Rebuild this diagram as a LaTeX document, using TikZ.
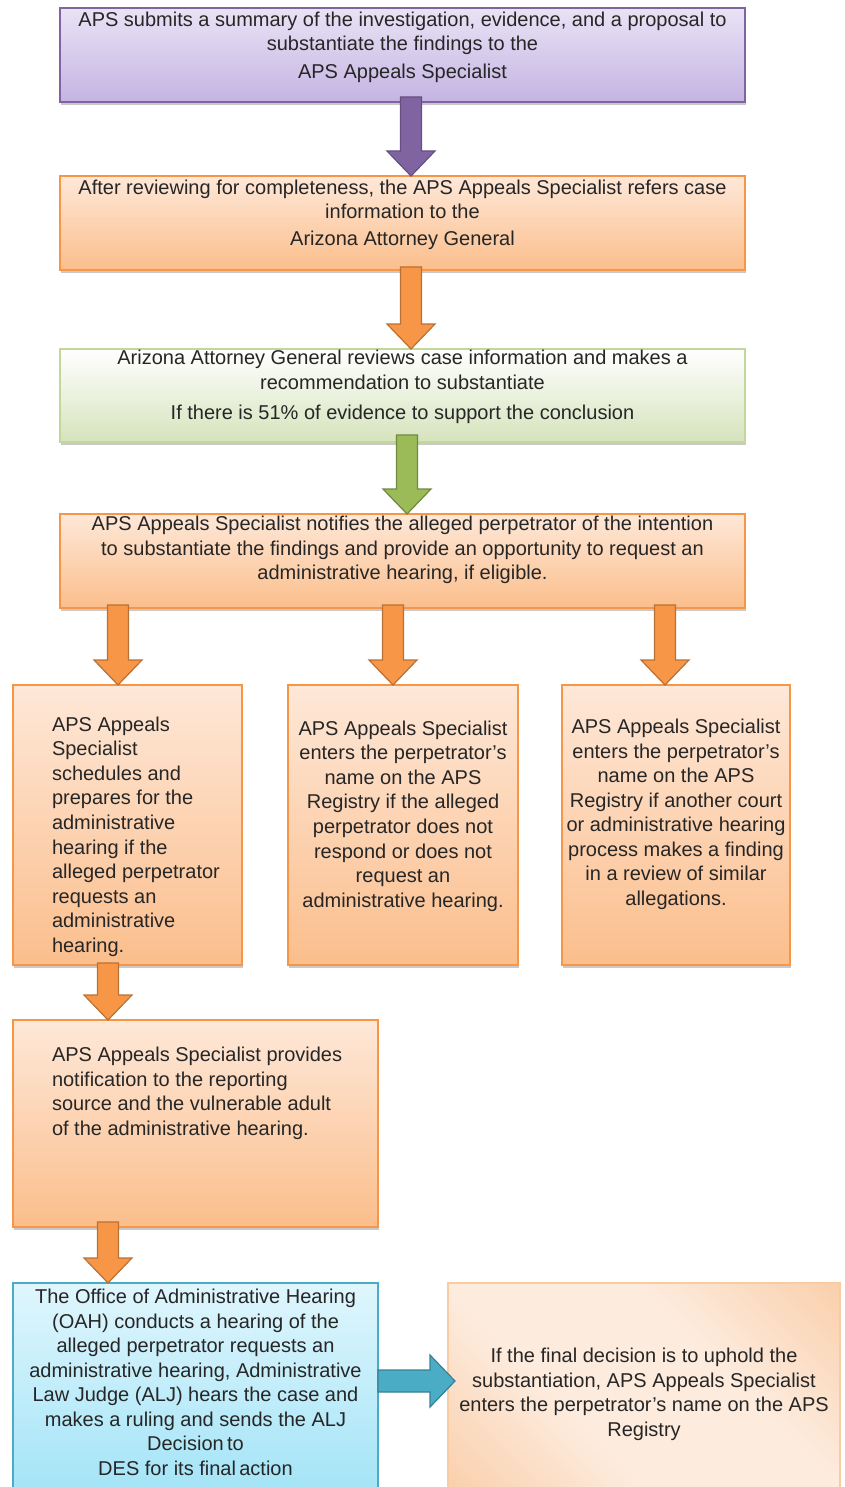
\documentclass[tikz,border=0pt]{standalone}
\usepackage{fontspec}
\setmainfont{Liberation Sans}
\usepackage{tikz}
\usetikzlibrary{calc, shadows}
\usetikzlibrary{positioning}

\definecolor{lavTop}{HTML}{E9E3F5}
\definecolor{lavBot}{HTML}{C5B4E3}
\definecolor{lavLine}{HTML}{8064A2}
\definecolor{peachTop}{HTML}{FEE8D8}
\definecolor{peachBot}{HTML}{FBBE8C}
\definecolor{peachLine}{HTML}{F79646}
\definecolor{sageTop}{HTML}{FFFFFF}
\definecolor{sageBot}{HTML}{D6E3BC}
\definecolor{sageLine}{HTML}{C3D69B}
\definecolor{sageFill}{HTML}{9BBB59}
\definecolor{sageEdge}{HTML}{71893F}
\definecolor{skyTop}{HTML}{E0F6FD}
\definecolor{skyBot}{HTML}{A3E4F7}
\definecolor{skyLine}{HTML}{4BACC6}
\definecolor{bandDark}{HTML}{F8BE8C}
\definecolor{bandLight}{HTML}{FDEBDD}
\definecolor{inkText}{HTML}{262626}

\pgfdeclarehorizontalshading{peachband}{100bp}{color(0bp)=(bandDark); color(38bp)=(bandLight); color(62bp)=(bandLight); color(100bp)=(bandDark)}

\tikzstyle{stepbox} = [
    draw,
    line width=1.5pt,
    inner sep=0pt,
    outer sep=0pt,
    text=inkText,
    font=\fontsize{20}{24.5}\selectfont,
    drop shadow={shadow xshift=1pt, shadow yshift=-3pt, opacity=.3, fill=black!70}
]
\tikzstyle{lavbox} = [stepbox, draw=lavLine, top color=lavTop, bottom color=lavBot]
\tikzstyle{peachbox} = [stepbox, draw=peachLine, top color=peachTop, bottom color=peachBot]
\tikzstyle{sagebox} = [stepbox, draw=sageLine, top color=sageTop, bottom color=sageBot]
\tikzstyle{skybox} = [stepbox, draw=skyLine, top color=skyTop, bottom color=skyBot]
\tikzstyle{bandbox} = [stepbox, draw=bandDark!80, shade, shading=peachband, shading angle=45]

\tikzstyle{blockarrow} = [line width=1.2pt, line join=miter]
\tikzstyle{lavarrow} = [blockarrow, draw=lavLine!80!black, fill=lavLine]
\tikzstyle{peacharrow} = [blockarrow, draw=peachLine!75!black, fill=peachLine]
\tikzstyle{sagearrow} = [blockarrow, draw=sageEdge, fill=sageFill]
\tikzstyle{skyarrow} = [blockarrow, draw=skyLine!75!black, fill=skyLine]

% [align]{width}{height}{top offset}{text}
\newcommand{\stepbody}[5][\centering]{\parbox[c][#3][t]{#2}{\vspace*{#4}#1#5}}

% style, from, to
\newcommand{\downblock}[3]{%
  \filldraw[#1] let \p1=(#2), \p2=(#3) in
    (\x1-10.5pt,\y1) -- (\x1-10.5pt,\y2+25pt) -- (\x1-24pt,\y2+25pt) -- (\x1,\y2)
    -- (\x1+24pt,\y2+25pt) -- (\x1+10.5pt,\y2+25pt) -- (\x1+10.5pt,\y1) -- cycle;}
\newcommand{\rightblock}[3]{%
  \filldraw[#1] let \p1=(#2), \p2=(#3) in
    (\x1,\y1+11pt) -- (\x2-25pt,\y1+11pt) -- (\x2-25pt,\y1+26pt) -- (\x2,\y1)
    -- (\x2-25pt,\y1-26pt) -- (\x2-25pt,\y1-11pt) -- (\x1,\y1-11pt) -- cycle;}

\begin{document}
\begin{tikzpicture}[x=1pt, y=-1pt]

\useasboundingbox (0,0) rectangle (845,1487);

\node [lavbox,
    minimum width=685pt,
    minimum height=94pt
] (submit) at (402.5,55) {\stepbody{685pt}{94pt}{4pt}{APS submits a summary of the investigation, evidence, and a proposal to\\ substantiate the findings to the\\[3pt] APS Appeals Specialist}};

\node [peachbox,
    minimum width=685pt,
    minimum height=94pt,
    below=74pt of submit
] (refer) {\stepbody{685pt}{94pt}{4pt}{After reviewing for completeness, the APS Appeals Specialist refers case\\ information to the\\[2pt] Arizona Attorney General}};

\node [sagebox,
    minimum width=685pt,
    minimum height=93pt,
    below=79pt of refer
] (review) {\stepbody{685pt}{93pt}{1.5pt}{Arizona Attorney General reviews case information and makes a\\ recommendation to substantiate\\[6pt] If there is 51\% of evidence to support the conclusion}};

\node [peachbox,
    minimum width=685pt,
    minimum height=94pt,
    below=72pt of review
] (notify) {\stepbody{685pt}{94pt}{2.5pt}{APS Appeals Specialist notifies the alleged perpetrator of the intention\\ to substantiate the findings and provide an opportunity to request an\\ administrative hearing, if eligible.}};

\node [peachbox,
    minimum width=229pt,
    minimum height=280pt,
    below right=77pt and -47pt of notify.south west
] (schedule) {\stepbody[\raggedright\leftskip=39pt\relax]{229pt}{280pt}{32pt}{APS Appeals\\ Specialist\\ schedules and\\ prepares for the\\ administrative\\ hearing if the\\ alleged perpetrator\\ requests an\\ administrative\\ hearing.}};

\node [peachbox,
    minimum width=230pt,
    minimum height=280pt,
    right=46pt of schedule
] (noreply) {\stepbody{230pt}{280pt}{36pt}{APS Appeals Specialist\\ enters the perpetrator’s\\ name on the APS\\ Registry if the alleged\\ perpetrator does not\\ respond or does not\\ request an\\ administrative hearing.}};

\node [peachbox,
    minimum width=228pt,
    minimum height=280pt,
    right=44pt of noreply
] (otherfind) {\stepbody{228pt}{280pt}{34pt}{APS Appeals Specialist\\ enters the perpetrator’s\\ name on the APS\\ Registry if another court\\ or administrative hearing\\ process makes a finding\\ in a review of similar\\ allegations.}};

\node [peachbox,
    minimum width=365pt,
    minimum height=207pt,
    below right=55pt and 0pt of schedule.south west
] (notifyall) {\stepbody[\raggedright\leftskip=39pt\relax]{365pt}{207pt}{27pt}{APS Appeals Specialist provides\\ notification to the reporting\\ source and the vulnerable adult\\ of the administrative hearing.}};

\node [skybox,
    minimum width=365pt,
    minimum height=210pt,
    below right=56pt and 0pt of notifyall.south west
] (hearing) {\stepbody{365pt}{210pt}{6pt}{The Office of Administrative Hearing\\ (OAH) conducts a hearing of the\\ alleged perpetrator requests an\\ administrative hearing, Administrative\\ Law Judge (ALJ) hears the case and\\ makes a ruling and sends the ALJ\\ Decision\,to\\ DES for its final\,action}};

\node [bandbox,
    minimum width=392pt,
    minimum height=210pt,
    right=70pt of hearing
] (uphold) {\stepbody{392pt}{210pt}{65pt}{If the final decision is to uphold the\\ substantiation, APS Appeals Specialist\\ enters the perpetrator’s name on the APS\\ Registry}};

\downblock{lavarrow}{[xshift=8.5pt,yshift=5pt]submit.south}{refer.north}
\downblock{peacharrow}{[xshift=8.5pt,yshift=3pt]refer.south}{review.north}
\downblock{sagearrow}{[xshift=4.5pt,yshift=7pt]review.south}{notify.north}

\downblock{peacharrow}{[xshift=-284.5pt,yshift=3pt]notify.south}{schedule.north}
\downblock{peacharrow}{[xshift=-9.5pt,yshift=3pt]notify.south}{noreply.north}
\downblock{peacharrow}{[xshift=262.5pt,yshift=3pt]notify.south}{otherfind.north}

\downblock{peacharrow}{[xshift=-19.5pt,yshift=2pt]schedule.south}{notifyall.north}
\downblock{peacharrow}{[xshift=-87.5pt,yshift=5pt]notifyall.south}{hearing.north}

\rightblock{skyarrow}{[yshift=7pt]hearing.east}{[xshift=7pt]uphold.west}

\end{tikzpicture}
\end{document}
